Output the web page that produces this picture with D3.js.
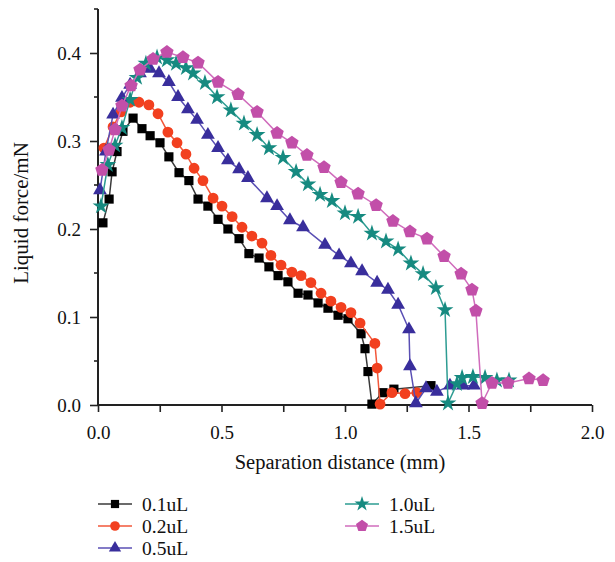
<!DOCTYPE html>
<html>
<head>
<meta charset="utf-8">
<script src="https://cdn.jsdelivr.net/npm/d3@7"></script>
<style>
  html, body { margin: 0; padding: 0; background: #fff; }
  svg { display: block; }
  text { font-family: "Liberation Serif", "DejaVu Serif", serif; fill: #111; }
</style>
</head>
<body>
<div id="chart"></div>
<script>
// ---------- data ----------
const xTicks = [0.0, 0.5, 1.0, 1.5, 2.0];
const yTicks = [0.0, 0.1, 0.2, 0.3, 0.4];
const seriesNames = ["0.1uL", "0.2uL", "0.5uL", "1.0uL", "1.5uL"];

const x01 = [0.020,0.045,0.057,0.077,0.101,0.142,0.178,0.211,0.251,0.287,0.328,0.368,0.405,0.445,0.486,0.526,0.571,0.611,0.652,0.692,0.729,0.769,0.810,0.850,0.891,0.931,0.972,1.012,1.065,1.081,1.093,1.109,1.154,1.198,1.348];
const y01 = [0.207,0.234,0.265,0.288,0.311,0.326,0.314,0.306,0.298,0.282,0.264,0.255,0.234,0.226,0.211,0.200,0.189,0.172,0.167,0.157,0.147,0.140,0.127,0.125,0.116,0.110,0.102,0.098,0.081,0.064,0.038,0.001,0.014,0.018,0.022];

const x02 = [0.024,0.061,0.093,0.130,0.166,0.206,0.243,0.283,0.320,0.356,0.389,0.425,0.466,0.502,0.543,0.583,0.623,0.664,0.700,0.741,0.785,0.822,0.862,0.903,0.943,0.984,1.024,1.061,1.121,1.130,1.142,1.190,1.243,1.291];
const y02 = [0.292,0.316,0.333,0.344,0.344,0.341,0.331,0.310,0.298,0.285,0.269,0.255,0.235,0.226,0.214,0.202,0.192,0.184,0.170,0.159,0.151,0.147,0.139,0.127,0.118,0.111,0.105,0.093,0.070,0.042,0.001,0.014,0.013,0.014];

const x05 = [0.008,0.032,0.061,0.097,0.130,0.170,0.211,0.247,0.287,0.324,0.364,0.401,0.445,0.486,0.526,0.571,0.607,0.684,0.725,0.777,0.830,0.919,0.976,1.024,1.069,1.130,1.174,1.215,1.259,1.263,1.287,1.328,1.372,1.425,1.478,1.522];
const y05 = [0.244,0.288,0.330,0.349,0.364,0.377,0.382,0.377,0.367,0.350,0.336,0.324,0.307,0.292,0.278,0.268,0.258,0.235,0.226,0.210,0.202,0.182,0.170,0.161,0.152,0.139,0.131,0.114,0.086,0.044,0.002,0.019,0.015,0.022,0.022,0.022];

const x10 = [0.012,0.040,0.069,0.097,0.130,0.158,0.194,0.239,0.279,0.316,0.356,0.385,0.433,0.482,0.538,0.591,0.644,0.692,0.749,0.802,0.850,0.899,0.947,1.000,1.053,1.109,1.166,1.215,1.267,1.316,1.368,1.405,1.417,1.453,1.474,1.518,1.567,1.615,1.664];
const y10 = [0.226,0.273,0.295,0.315,0.347,0.372,0.388,0.395,0.392,0.388,0.383,0.377,0.366,0.350,0.335,0.320,0.307,0.292,0.281,0.265,0.251,0.239,0.232,0.218,0.214,0.195,0.186,0.177,0.161,0.149,0.133,0.108,0.002,0.024,0.031,0.032,0.031,0.028,0.028];

const x15 = [0.016,0.045,0.069,0.097,0.134,0.170,0.223,0.279,0.344,0.405,0.486,0.567,0.644,0.725,0.785,0.846,0.915,0.984,1.053,1.126,1.194,1.263,1.332,1.401,1.470,1.514,1.530,1.555,1.595,1.660,1.745,1.802];
const y15 = [0.267,0.290,0.313,0.340,0.363,0.381,0.393,0.401,0.395,0.389,0.367,0.353,0.333,0.309,0.298,0.284,0.270,0.253,0.240,0.227,0.209,0.197,0.189,0.169,0.149,0.131,0.107,0.002,0.025,0.025,0.030,0.028];

// ---------- styling ----------
const markerColors = ["#000000", "#f2401f", "#392e9c", "#168a80", "#c24fa9"];
const lineColors   = ["#3a3a3a", "#f2573a", "#5a4fb4", "#2d9c92", "#d06cbc"];

const pentagon = {
  draw(ctx, size) {
    const r = Math.sqrt(size / 2.3776);
    for (let i = 0; i < 5; i++) {
      const a = -Math.PI / 2 + i * 2 * Math.PI / 5;
      const px = r * Math.cos(a), py = r * Math.sin(a);
      if (i === 0) ctx.moveTo(px, py); else ctx.lineTo(px, py);
    }
    ctx.closePath();
  }
};
const symbols = [d3.symbolSquare, d3.symbolCircle, d3.symbolTriangle, d3.symbolStar, pentagon];
const symSizes = [84, 92, 82, 88, 118];

const W = 615, H = 562;
const margin = { left: 98, right: 23, top: 9, bottom: 157 };

const svg = d3.select("#chart").append("svg").attr("width", W).attr("height", H);

const x = d3.scaleLinear().domain([0, 2]).range([margin.left, W - margin.right]);
const y = d3.scaleLinear().domain([0, 0.45]).range([H - margin.bottom, margin.top]);

// ---------- axes ----------
const xAxis = d3.axisBottom(x)
  .tickValues(d3.range(0, 2.0001, 0.25))
  .tickSize(7)
  .tickFormat(d => (Math.abs(d * 2 - Math.round(d * 2)) < 1e-6) ? d3.format(".1f")(d) : "");
const gx = svg.append("g").attr("transform", `translate(0,${y(0)})`).call(xAxis);
gx.select(".domain").attr("stroke", "#222").attr("stroke-width", 2).attr("d", `M${x(0)},0H${x(2)}`);
gx.selectAll(".tick line").attr("stroke", "#222").attr("stroke-width", 1.6);
gx.selectAll(".tick text").attr("font-size", 19).attr("font-family", "Liberation Serif, serif").attr("y", 19).attr("dy", "0.8em").attr("fill", "#111");

const yAxis = d3.axisLeft(y)
  .tickValues(yTicks)
  .tickSize(8)
  .tickFormat(d3.format(".1f"));
const gy = svg.append("g").attr("transform", `translate(${x(0)},0)`).call(yAxis);
gy.select(".domain").attr("stroke", "#222").attr("stroke-width", 2).attr("d", `M0,${y(0.45)}V${y(0)}`);
gy.selectAll(".tick line").attr("stroke", "#222").attr("stroke-width", 1.6);
gy.selectAll(".tick text").attr("font-size", 19).attr("font-family", "Liberation Serif, serif").attr("x", -17).attr("fill", "#111");

// y minor ticks
svg.append("g").selectAll("line")
  .data([0.05, 0.15, 0.25, 0.35, 0.45])
  .join("line")
  .attr("x1", x(0) - 4).attr("x2", x(0))
  .attr("y1", d => y(d)).attr("y2", d => y(d))
  .attr("stroke", "#222").attr("stroke-width", 1.6);

// axis titles
svg.append("text")
  .attr("x", (x(0) + x(2)) / 2 - 5).attr("y", 469)
  .attr("text-anchor", "middle").attr("font-size", 20.5)
  .text("Separation distance (mm)");
svg.append("text")
  .attr("transform", `translate(28,${(y(0) + y(0.45)) / 2 + 6}) rotate(-90)`)
  .attr("text-anchor", "middle").attr("font-size", 21)
  .text("Liquid force/mN");

// ---------- series ----------
const xs = [x01, x02, x05, x10, x15];
const ys = [y01, y02, y05, y10, y15];
const line = d3.line().x(d => x(d[0])).y(d => y(d[1]));

xs.forEach((xa, i) => {
  const pts = xa.map((v, j) => [v, ys[i][j]]);
  const g = svg.append("g");
  g.append("path").datum(pts)
    .attr("d", line).attr("fill", "none")
    .attr("stroke", lineColors[i]).attr("stroke-width", 1.5);
  g.selectAll("path.m").data(pts).join("path")
    .attr("class", "m")
    .attr("transform", d => `translate(${x(d[0])},${y(d[1])})`)
    .attr("d", d3.symbol().type(symbols[i]).size(symSizes[i]))
    .attr("fill", markerColors[i]);
});

// ---------- legend ----------
const legendPos = [
  { lx: 98, ly: 504 }, { lx: 98, ly: 526 }, { lx: 98, ly: 548 },
  { lx: 345, ly: 504 }, { lx: 345, ly: 526 }
];
const lg = svg.append("g");
seriesNames.forEach((name, i) => {
  const p = legendPos[i];
  lg.append("line").attr("x1", p.lx).attr("x2", p.lx + 34).attr("y1", p.ly).attr("y2", p.ly)
    .attr("stroke", lineColors[i]).attr("stroke-width", 1.5);
  lg.append("path")
    .attr("transform", `translate(${p.lx + 17},${p.ly})`)
    .attr("d", d3.symbol().type(symbols[i]).size(symSizes[i] * 0.8))
    .attr("fill", markerColors[i]);
  lg.append("text").attr("x", p.lx + 44).attr("y", p.ly).attr("dy", "0.35em")
    .attr("font-size", 19.5).text(name);
});
</script>
</body>
</html>
